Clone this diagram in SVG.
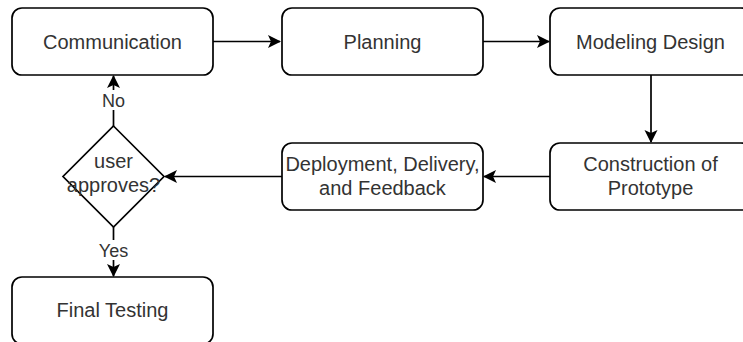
<svg xmlns="http://www.w3.org/2000/svg" width="743" height="342" viewBox="0 0 743 342">
<style>
.box{fill:#fff;stroke:#000;stroke-width:1.7}
.t{font-family:"Liberation Sans",Arial,sans-serif;font-size:20px;fill:#333;text-anchor:middle}
.lbl{font-family:"Liberation Sans",Arial,sans-serif;font-size:18px;fill:#333;text-anchor:middle}
.e{fill:none;stroke:#000;stroke-width:1.7}
.ah{fill:#000}
</style>
<rect width="743" height="342" fill="#fff"/>
<g id="edges">
<line class="e" x1="213" y1="41.5" x2="280" y2="41.5"/>
<path class="ah" d="M268,35 L281,41.5 L268,48 L271,41.5 Z"/>
<line class="e" x1="483" y1="41.5" x2="549" y2="41.5"/>
<path class="ah" d="M537,35 L550,41.5 L537,48 L540,41.5 Z"/>
<line class="e" x1="651" y1="75" x2="651" y2="142"/>
<path class="ah" d="M644.5,130 L651,143 L657.5,130 L651,133 Z"/>
<line class="e" x1="550" y1="176.5" x2="484" y2="176.5"/>
<path class="ah" d="M496,170 L483,176.5 L496,183 L493,176.5 Z"/>
<line class="e" x1="282" y1="176.5" x2="165" y2="176.5"/>
<path class="ah" d="M177,170 L164,176.5 L177,183 L174,176.5 Z"/>
<line class="e" x1="113.5" y1="126" x2="113.5" y2="76"/>
<path class="ah" d="M107,88 L113.5,75 L120,88 L113.5,85 Z"/>
<line class="e" x1="113.5" y1="227" x2="113.5" y2="276"/>
<path class="ah" d="M107,264 L113.5,277 L120,264 L113.5,267 Z"/>
<rect x="100" y="90" width="28" height="20" fill="#fff"/>
<text class="lbl" x="113.5" y="107">No</text>
<rect x="96" y="240" width="36" height="20" fill="#fff"/>
<text class="lbl" x="113.5" y="257">Yes</text>
</g>
<g id="communication">
<rect class="box" x="12" y="8" width="201" height="67" rx="10"/>
<text class="t" x="112.5" y="48.5">Communication</text>
</g>
<g id="planning">
<rect class="box" x="282" y="8" width="201" height="67" rx="10"/>
<text class="t" x="382.5" y="48.5">Planning</text>
</g>
<g id="modeling">
<rect class="box" x="550" y="8" width="201" height="67" rx="10"/>
<text class="t" x="650.5" y="48.5">Modeling Design</text>
</g>
<g id="construction">
<rect class="box" x="550" y="143" width="201" height="67" rx="10"/>
<text class="t" x="650.5" y="171">Construction of</text>
<text class="t" x="650.5" y="195">Prototype</text>
</g>
<g id="deployment">
<rect class="box" x="282" y="143" width="201" height="67" rx="10"/>
<text class="t" x="382.5" y="171">Deployment, Delivery,</text>
<text class="t" x="382.5" y="195">and Feedback</text>
</g>
<g id="decision">
<polygon class="box" points="113.5,126 164,176.5 113.5,227 63,176.5"/>
<text class="t" x="113.5" y="168">user</text>
<text class="t" x="113.5" y="192">approves?</text>
</g>
<g id="final">
<rect class="box" x="12" y="277" width="201" height="67" rx="10"/>
<text class="t" x="112.5" y="317">Final Testing</text>
</g>
</svg>
